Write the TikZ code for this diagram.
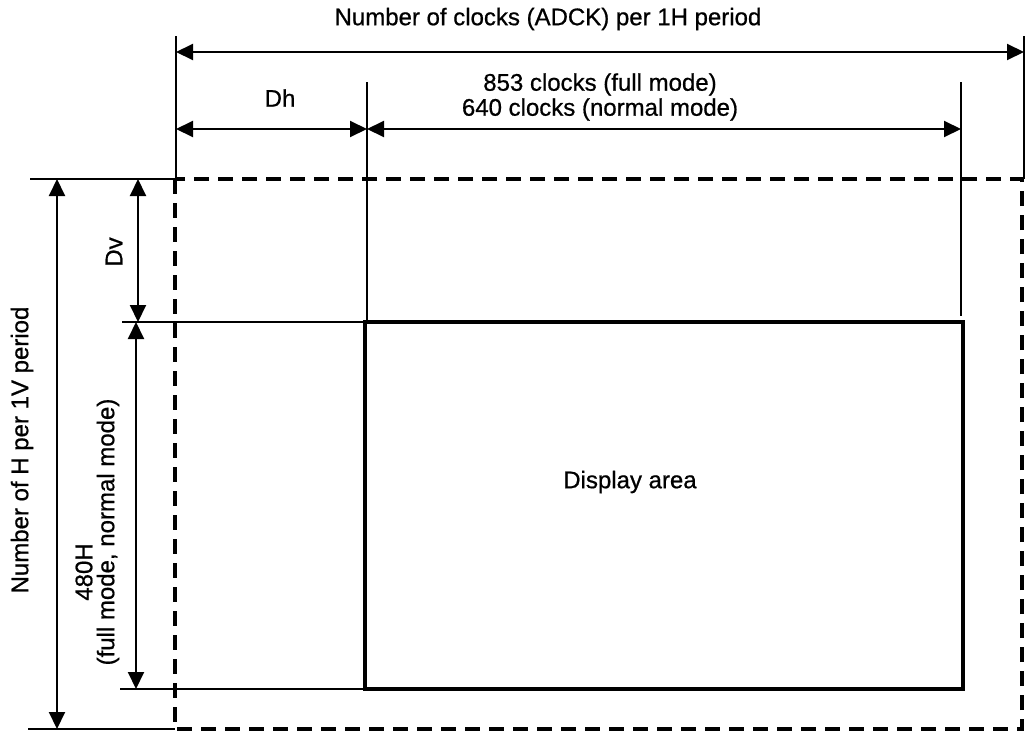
\documentclass[tikz,border=0pt]{standalone}
\usepackage{fontspec}
\setmainfont{Liberation Sans}[BoldFont=Liberation Sans, BoldFeatures={FakeBold=0.7}]
\usetikzlibrary{arrows.meta}
\begin{document}
\begin{tikzpicture}[x=1pt,y=-1pt,
  thinline/.style={line width=2pt},
  dim/.style={line width=2pt,{Triangle[length=17pt,width=16pt]}-{Triangle[length=17pt,width=16pt]}},
  frame/.style={line width=3.5pt,dash pattern=on 15pt off 9pt},
  disp/.style={line width=4pt},
  lbl/.style={font=\fontsize{24}{25}\selectfont\bfseries, inner sep=0pt},
]
\fill[white] (0,0) rectangle (1025,731);
\useasboundingbox (0,0) rectangle (1025,731);

% coordinates
\coordinate (gL1) at (176,36);
\coordinate (gL2) at (176,179);
\coordinate (gR1) at (1024,36);
\coordinate (gR2) at (1024,179);
\coordinate (hL) at (176,52);
\coordinate (hR) at (1024,52);
\coordinate (dhL) at (176,129);
\coordinate (dhR) at (367,129);
\coordinate (daR) at (961,129);
\coordinate (g3a) at (367,82);
\coordinate (g3b) at (367,322);
\coordinate (g4a) at (961,82);
\coordinate (g4b) at (961,316);
\coordinate (fr1) at (175,179);
\coordinate (fr2) at (1022,729);
\coordinate (t1) at (30,179);
\coordinate (b1) at (28,729);
\coordinate (b2) at (175,729);
\coordinate (vT) at (57,179);
\coordinate (vB) at (57,729);
\coordinate (dvT) at (138,179);
\coordinate (dvB) at (138,322);
\coordinate (m1) at (122,322);
\coordinate (m2) at (365,322);
\coordinate (hT) at (136,322);
\coordinate (hB) at (136,689);
\coordinate (n1) at (120,689);
\coordinate (n2) at (365,689);
\coordinate (da1) at (365,322);
\coordinate (da2) at (963,689);

% guide lines
\draw[thinline] (gL1) -- (gL2);
\draw[thinline] (gR1) -- (gR2);
\draw[thinline] (g3a) -- (g3b);
\draw[thinline] (g4a) -- (g4b);
\draw[thinline] (t1) -- (fr1);
\draw[thinline] (b1) -- (b2);
\draw[thinline] (m1) -- (m2);
\draw[thinline] (n1) -- (n2);

% frame and display area
\draw[frame] (fr1) rectangle (fr2);
\draw[disp] (da1) rectangle (da2);

% dimension arrows
\draw[dim] (hL) -- (hR);
\draw[dim] (dhL) -- (dhR);
\draw[dim] (dhR) -- (daR);
\draw[dim] (vT) -- (vB);
\draw[dim] (dvT) -- (dvB);
\draw[dim] (hT) -- (hB);

% labels
\node[lbl] (ttop) at (548,19) {Number of clocks (ADCK) per 1H period};
\node[lbl] (tdh) at (280,98) {Dh};
\node[lbl, align=center] (tclk) at (600,97) {853 clocks (full mode)\\640 clocks (normal mode)};
\node[lbl] (tdisp) at (630,482) {Display area};
\node[lbl, rotate=90] (tleft) at (22,450) {Number of H per 1V period};
\node[lbl, rotate=90] (tdv) at (114,252) {Dv};
\node[lbl, rotate=90] (t480) at (84,572) {480H};
\node[lbl, rotate=90] (tmode) at (108,532) {(full mode, normal mode)};
\end{tikzpicture}
\end{document}
